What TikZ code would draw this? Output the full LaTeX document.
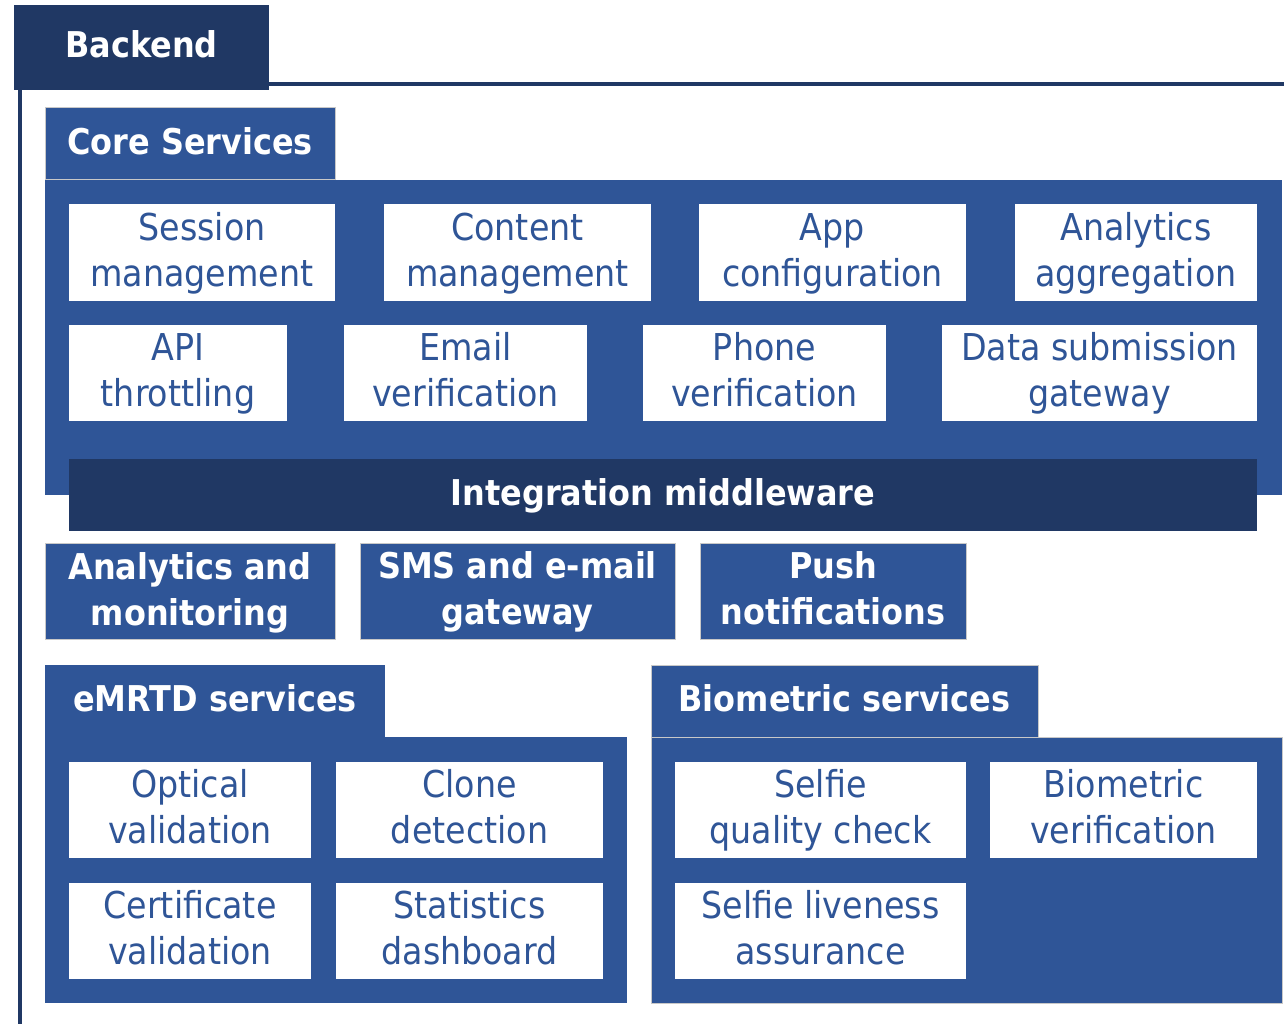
\documentclass[tikz,border=0pt]{standalone}
\usepackage{fontspec}
\setmainfont{DejaVu Sans Condensed}
\definecolor{navy}{HTML}{203864}
\definecolor{midblue}{HTML}{2F5597}
\definecolor{edgegray}{HTML}{C8C8C8}
\newcommand\lnstrut{\rule[-12.5pt]{0pt}{46pt}}
\begin{document}
\begin{tikzpicture}[x=1pt,y=-1pt,
  box/.style={rectangle, inner sep=0pt, align=center, font={\fontsize{37}{46}\selectfont}},
  wbox/.style={box, fill=white, text=midblue},
  bbox/.style={box, fill=midblue, draw=edgegray, line width=1pt, text=white, font={\bfseries\fontsize{35.5}{46}\selectfont}},
  nbox/.style={box, fill=navy, text=white, font={\bfseries\fontsize{35.5}{46}\selectfont}},
  panel/.style={rectangle, inner sep=0pt, fill=midblue},
  frame/.style={draw=navy, line width=3.5pt}]
\useasboundingbox (0,0) rectangle (1284,1024);
% backend frame
\node[nbox, minimum width=255pt, minimum height=85pt] (backend) at (141.5,47.5) {\lnstrut Backend};
\coordinate (hr) at (1284,84);
\coordinate (vb) at (20,1024);
\draw[frame] (backend.east |- hr) -- (hr);
\draw[frame] (backend.south -| vb) -- (vb);
% core services
\node[panel, minimum width=1237pt, minimum height=315pt] (corebg) at (663.5,337.5) {};
\node[bbox, minimum width=290pt, minimum height=72pt] (coretab) at (190,144) {\lnstrut Core Services};
\node[wbox, minimum width=266pt, minimum height=96pt] (sess) at (202,252.5) {\lnstrut Session\\\lnstrut management};
\node[wbox, minimum width=267pt, minimum height=96pt] (cont) at (517.5,252.5) {\lnstrut Content\\\lnstrut management};
\node[wbox, minimum width=267pt, minimum height=96pt] (appc) at (832.5,252.5) {\lnstrut App\\\lnstrut configuration};
\node[wbox, minimum width=242pt, minimum height=96pt] (anag) at (1136,252.5) {\lnstrut Analytics\\\lnstrut aggregation};
\node[wbox, minimum width=218pt, minimum height=96pt] (api) at (178,373) {\lnstrut API\\\lnstrut throttling};
\node[wbox, minimum width=243pt, minimum height=96pt] (email) at (465.5,373) {\lnstrut Email\\\lnstrut verification};
\node[wbox, minimum width=243pt, minimum height=96pt] (phone) at (764.5,373) {\lnstrut Phone\\\lnstrut verification};
\node[wbox, minimum width=315pt, minimum height=96pt] (dsg) at (1099.5,373) {\lnstrut Data submission\\\lnstrut gateway};
\node[nbox, minimum width=1188pt, minimum height=72pt] (integ) at (663,495) {\lnstrut Integration middleware};
% gateways
\node[bbox, minimum width=290pt, minimum height=96pt] (anmon) at (190,591.5) {\lnstrut Analytics and\\\lnstrut monitoring};
\node[bbox, minimum width=315pt, minimum height=96pt] (sms) at (517.5,591) {\lnstrut SMS and e-mail\\\lnstrut gateway};
\node[bbox, minimum width=266pt, minimum height=96pt] (push) at (833,591) {\lnstrut Push\\\lnstrut notifications};
% eMRTD
\node[panel, minimum width=582pt, minimum height=266pt] (embg) at (336,870) {};
\node[bbox, draw=none, minimum width=340pt, minimum height=72pt] (emtab) at (215,701) {\lnstrut eMRTD services};
\node[wbox, minimum width=242pt, minimum height=96pt] (opt) at (190,810) {\lnstrut Optical\\\lnstrut validation};
\node[wbox, minimum width=267pt, minimum height=96pt] (clone) at (469.5,810) {\lnstrut Clone\\\lnstrut detection};
\node[wbox, minimum width=242pt, minimum height=96pt] (cert) at (190,931) {\lnstrut Certificate\\\lnstrut validation};
\node[wbox, minimum width=267pt, minimum height=96pt] (stat) at (469.5,931) {\lnstrut Statistics\\\lnstrut dashboard};
% biometric
\node[panel, draw=edgegray, line width=1pt, minimum width=631pt, minimum height=266pt] (biobg) at (966.5,870) {};
\node[bbox, minimum width=387pt, minimum height=72pt] (biotab) at (844.5,701) {\lnstrut Biometric services};
\node[wbox, minimum width=291pt, minimum height=96pt] (sq) at (820.5,810) {\lnstrut Selfie\\\lnstrut quality check};
\node[wbox, minimum width=267pt, minimum height=96pt] (bv) at (1123.5,810) {\lnstrut Biometric\\\lnstrut verification};
\node[wbox, minimum width=291pt, minimum height=96pt] (sl) at (820.5,931) {\lnstrut Selfie liveness\\\lnstrut assurance};
\end{tikzpicture}
\end{document}
